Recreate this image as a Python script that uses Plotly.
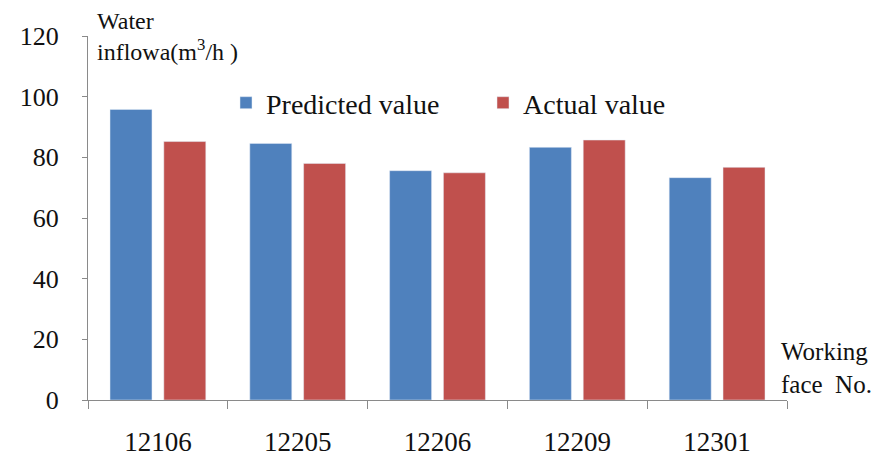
import plotly.graph_objects as go

categories = ["12106", "12205", "12206", "12209", "12301"]
predicted = [95.8, 84.6, 75.6, 83.3, 73.3]
actual = [85.2, 78.0, 74.9, 85.7, 76.7]
y_ticks = [0, 20, 40, 60, 80, 100, 120]

FONT = "Liberation Serif"
AXIS_COLOR = "#8a8a8a"
TXT = "#111111"

fig = go.Figure()
fig.add_trace(go.Bar(name="Predicted value", x=categories, y=predicted, marker_color="#4F81BD"))
fig.add_trace(go.Bar(name="Actual value", x=categories, y=actual, marker_color="#C0504D"))

fig.update_layout(
    width=879, height=457,
    paper_bgcolor="white", plot_bgcolor="white",
    margin=dict(l=88, r=92, t=36, b=57),
    barmode="group", bargap=0.23, bargroupgap=0.22,
    font=dict(family=FONT, size=22, color=TXT),
    showlegend=True,
    legend=dict(orientation="h", x=(226 - 88) / 699, y=(400 - 103) / 364,
                xanchor="left", yanchor="middle",
                font=dict(family=FONT, size=28, color=TXT),
                bgcolor="rgba(0,0,0,0)", itemwidth=30, traceorder="normal",
                entrywidth=212, entrywidthmode="pixels"),
    xaxis=dict(showline=True, linecolor=AXIS_COLOR, linewidth=1, ticks="outside",
               tickson="boundaries", ticklen=8, tickcolor=AXIS_COLOR, automargin=False,
               tickfont=dict(family=FONT, size=27, color=TXT),
               ticklabelstandoff=18, showgrid=False, zeroline=False),
    yaxis=dict(range=[0, 120], tickvals=y_ticks, showline=True, linecolor=AXIS_COLOR,
               linewidth=1, ticks="outside", ticklen=5, tickcolor=AXIS_COLOR, automargin=False,
               tickfont=dict(family=FONT, size=26, color=TXT),
               ticklabelstandoff=18, showgrid=False, zeroline=False),
    annotations=[
        dict(text="Water<br>inflowa(m<sup>3</sup>/h )", xref="paper", yref="paper",
             x=(95 - 88) / 699, y=(400 - 6) / 364, xanchor="left", yanchor="top", showarrow=False,
             align="left", font=dict(family=FONT, size=24, color=TXT)),
        dict(text="Working<br>face  No.", xref="paper", yref="paper",
             x=(779 - 88) / 699, y=(400 - 368) / 364, xanchor="left", yanchor="middle",
             showarrow=False, align="left", font=dict(family=FONT, size=25, color=TXT)),
    ],
)

fig.write_html("out.html", config={"displayModeBar": False},
               post_script="document.body.style.margin='0';")
